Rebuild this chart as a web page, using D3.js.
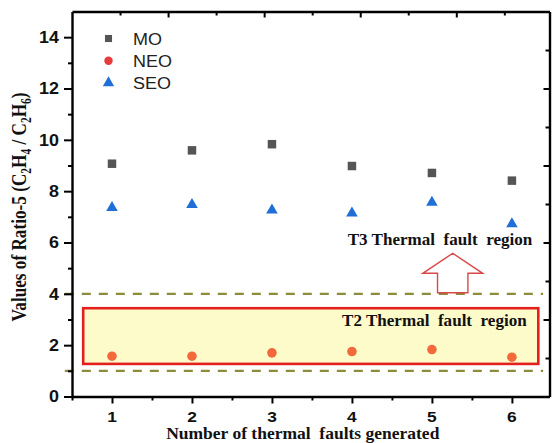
<!DOCTYPE html>
<html>
<head>
<meta charset="utf-8">
<script src="https://cdn.jsdelivr.net/npm/d3@7"></script>
<style>
  html, body { margin: 0; padding: 0; background: #fff; }
  svg { display: block; }
  .serif { font-family: "Liberation Serif", "Times New Roman", serif; font-weight: bold; fill: #111; white-space: pre; }
  .sans { font-family: "Liberation Sans", Arial, sans-serif; }
</style>
</head>
<body>
<svg id="chart" width="553" height="443"></svg>
<script>
// Fault index on the x axis
const faults = [1, 2, 3, 4, 5, 6];
// Ratio-5 (C2H4 / C2H6) for each oil
const moValues  = [9.07, 9.59, 9.83, 8.98, 8.71, 8.41];
const neoValues = [1.57, 1.57, 1.70, 1.75, 1.83, 1.53];
const seoValues = [7.36, 7.47, 7.26, 7.14, 7.56, 6.72];
const seriesNames = ["MO", "NEO", "SEO"];
const xTicks = [1, 2, 3, 4, 5, 6];
const yTicks = [0, 2, 4, 6, 8, 10, 12, 14];
// Thermal fault limits of Ratio-5
const t3Limit = 4;
const t2Limit = 1;

const svg = d3.select("#chart");
const plotLeft = 72, plotRight = 549.5, plotTop = 11.5, plotBottom = 396.5;
const STRETCH = 1.08;

const x = d3.scaleLinear().domain([0.5, 6.47]).range([plotLeft, plotRight]);
const y = d3.scaleLinear().domain([0, 15]).range([plotBottom, plotTop]);
// secondary frame scales (top / right edges)
const xTop = d3.scaleLinear().domain([0, 9.94]).range([plotLeft, plotRight]);
const yRight = d3.scaleLinear().domain([0, 10]).range([plotBottom, plotTop]);

// T2 region box
svg.append("rect")
  .attr("x", x(0.64)).attr("y", y(3.44))
  .attr("width", x(6.33) - x(0.64)).attr("height", y(1.27) - y(3.44))
  .attr("fill", "#fefbcb").attr("stroke", "#e3201e").attr("stroke-width", 2.6);

// limit lines
[t3Limit, t2Limit].forEach(v => {
  svg.append("line")
    .attr("x1", x(0.41)).attr("x2", x(6.39))
    .attr("y1", y(v)).attr("y2", y(v))
    .attr("stroke", "#8c8c3a").attr("stroke-width", 2.4)
    .attr("stroke-dasharray", "9,8");
});

// upward arrow towards T3 region
const ax = 5.26;
const arrowPts = [
  [ax, 5.58], [ax + 0.375, 4.80], [ax + 0.19, 4.80], [ax + 0.19, 4.04],
  [ax - 0.19, 4.04], [ax - 0.19, 4.80], [ax - 0.375, 4.80]
];
svg.append("polygon")
  .attr("points", arrowPts.map(p => [x(p[0]), y(p[1])].join(",")).join(" "))
  .attr("fill", "#fff").attr("stroke", "#d9494a").attr("stroke-width", 1.4);

function stretchedText(px, py, str, size, anchor) {
  return svg.append("text")
    .attr("class", "serif")
    .attr("transform", `translate(${px},${py}) scale(${STRETCH},1)`)
    .attr("text-anchor", anchor)
    .attr("font-size", size)
    .text(str);
}
stretchedText(x(6.255), y(5.9), "T3 Thermal  fault  region", 15.8, "end");
stretchedText(x(6.185), y(2.75), "T2 Thermal  fault  region", 15.8, "end");

// axes
function styleAxis(g) {
  g.select(".domain").attr("stroke", "#000").attr("stroke-width", 2.4);
  g.selectAll(".tick line").attr("stroke", "#000").attr("stroke-width", 2);
}
function minorTicks(g) {
  g.select(".domain").remove();
  g.selectAll(".tick line").attr("stroke", "#000").attr("stroke-width", 2);
}
// bottom
svg.append("g").attr("transform", `translate(0,${plotBottom})`)
  .call(d3.axisBottom(x).tickValues(xTicks).tickSize(7).tickSizeOuter(0).tickFormat(""))
  .call(styleAxis);
svg.append("g").attr("transform", `translate(0,${plotBottom})`)
  .call(d3.axisBottom(x).tickValues([0.5, 1.5, 2.5, 3.5, 4.5, 5.5]).tickSize(4).tickFormat(""))
  .call(minorTicks);
// left
svg.append("g").attr("transform", `translate(${plotLeft},0)`)
  .call(d3.axisLeft(y).tickValues(yTicks).tickSize(8).tickSizeOuter(0).tickFormat(""))
  .call(styleAxis);
svg.append("g").attr("transform", `translate(${plotLeft},0)`)
  .call(d3.axisLeft(y).tickValues([1, 3, 5, 7, 9, 11, 13]).tickSize(4).tickFormat(""))
  .call(minorTicks);
// top frame (ticks inward)
svg.append("g").attr("transform", `translate(0,${plotTop})`)
  .call(d3.axisBottom(xTop).tickValues([2, 4, 6, 8]).tickSize(6).tickSizeOuter(0).tickFormat(""))
  .call(styleAxis);
svg.append("g").attr("transform", `translate(0,${plotTop})`)
  .call(d3.axisBottom(xTop).tickValues([1, 3, 5, 7, 9]).tickSize(4).tickFormat(""))
  .call(minorTicks);
// right frame (ticks inward)
svg.append("g").attr("transform", `translate(${plotRight},0)`)
  .call(d3.axisLeft(yRight).tickValues([2, 4, 6, 8]).tickSize(6).tickSizeOuter(0).tickFormat(""))
  .call(styleAxis);
svg.append("g").attr("transform", `translate(${plotRight},0)`)
  .call(d3.axisLeft(yRight).tickValues([1, 3, 5, 7, 9]).tickSize(4).tickFormat(""))
  .call(minorTicks);

// tick labels
svg.append("g").selectAll("text").data(yTicks).join("text")
  .attr("class", "sans")
  .attr("transform", d => `translate(${plotLeft - 13},${y(d) + 5.8}) scale(1.12,1)`)
  .attr("text-anchor", "end").attr("font-size", 16).attr("font-weight", "bold")
  .attr("fill", "#111").text(d => d);
svg.append("g").selectAll("text").data(xTicks).join("text")
  .attr("class", "sans")
  .attr("transform", d => `translate(${x(d)},${plotBottom + 25.5}) scale(1.12,1)`)
  .attr("text-anchor", "middle").attr("font-size", 15.5).attr("font-weight", "bold")
  .attr("fill", "#111").text(d => d);

// axis titles
svg.append("text").attr("class", "serif")
  .attr("transform", `translate(${(plotLeft + plotRight) / 2 - 8},438.5) scale(${STRETCH},1)`)
  .attr("text-anchor", "middle").attr("font-size", 16.2)
  .text("Number of thermal  faults generated");

const yTitle = svg.append("text").attr("class", "serif")
  .attr("transform", `translate(26,${(plotTop + plotBottom) / 2 + 3}) rotate(-90) scale(1,1.18)`)
  .attr("text-anchor", "middle").attr("font-size", 17.2);
const titleParts = [
  ["Values of Ratio-5 (C", 0], ["2", 1], ["H", 0], ["4", 1],
  [" / C", 0], ["2", 1], ["H", 0], ["6", 1], [")", 0]
];
let shifted = false;
titleParts.forEach(([s, sub]) => {
  const t = yTitle.append("tspan").text(s);
  if (sub && !shifted) { t.attr("font-size", 11.5).attr("dy", 4); shifted = true; }
  else if (sub) { t.attr("font-size", 11.5); }
  else if (shifted) { t.attr("dy", -4); shifted = false; }
});

// markers
const symbolTypes = { MO: d3.symbolSquare, NEO: d3.symbolCircle, SEO: d3.symbolTriangle };
const symbolSizes = { MO: 72, NEO: 72, SEO: 58 };
const colors = { MO: "#555555", NEO: "#f26a3c", SEO: "#1f6fd6" };
const legendColors = { MO: "#555555", NEO: "#e83a3a", SEO: "#1f6fd6" };
const seriesData = { MO: moValues, NEO: neoValues, SEO: seoValues };

seriesNames.forEach(name => {
  svg.append("g").selectAll("path").data(faults.map((f, i) => [f, seriesData[name][i]])).join("path")
    .attr("d", d3.symbol().type(symbolTypes[name]).size(symbolSizes[name])())
    .attr("transform", d => `translate(${x(d[0])},${y(d[1])})`)
    .attr("fill", colors[name]);
});

// legend
const legend = svg.append("g");
seriesNames.forEach((name, i) => {
  const ly = 38.5 + i * 22.2;
  legend.append("path")
    .attr("d", d3.symbol().type(symbolTypes[name]).size(name === "MO" ? 50 : 56)())
    .attr("transform", `translate(108.5,${ly})`)
    .attr("fill", legendColors[name]);
  legend.append("text").attr("class", "sans")
    .attr("transform", `translate(133,${ly + 6.2}) scale(1.06,1)`)
    .attr("font-size", 17).attr("fill", "#222").text(name);
});
</script>
</body>
</html>
